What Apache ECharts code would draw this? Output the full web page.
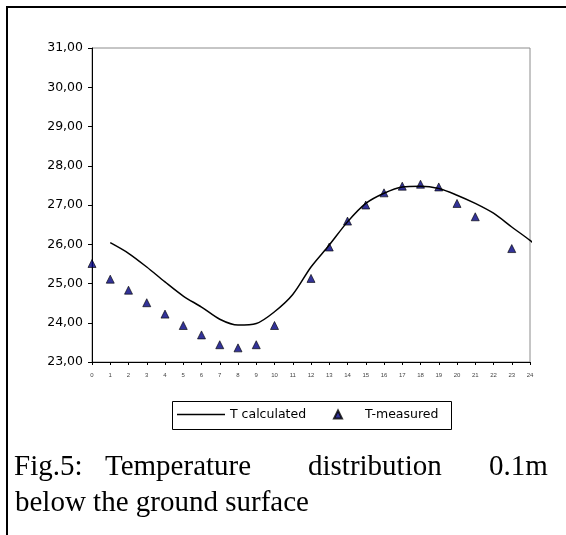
<!DOCTYPE html>
<html>
<head>
<meta charset="utf-8">
<script src="https://cdn.jsdelivr.net/npm/echarts@6/dist/echarts.min.js"></script>
<style>
  html, body { margin: 0; padding: 0; background: #fff; }
  #chart { width: 566px; height: 535px; }
</style>
</head>
<body>
<div id="chart"></div>
<script>
// ---- data ----
const calcHours = [1, 2, 3, 4, 5, 6, 7, 8, 9, 10, 11, 12, 13, 14, 15, 16, 17, 18, 19, 20, 21, 22, 23, 24, 24.3];
const calcTemps = [26.04, 25.77, 25.42, 25.04, 24.68, 24.40, 24.09, 23.94, 23.98, 24.28, 24.72, 25.42, 25.98, 26.57, 27.04, 27.30, 27.46, 27.48, 27.42, 27.25, 27.04, 26.79, 26.44, 26.10, 25.98];
const measHours = [0, 1, 2, 3, 4, 5, 6, 7, 8, 9, 10, 12, 13, 14, 15, 16, 17, 18, 19, 20, 21, 23];
const measTemps = [25.51, 25.11, 24.83, 24.51, 24.22, 23.93, 23.69, 23.44, 23.36, 23.44, 23.93, 25.13, 25.93, 26.59, 27.00, 27.31, 27.48, 27.53, 27.46, 27.04, 26.70, 25.89];
const seriesNames = ['T calculated', 'T-measured'];
const yTicks = [23, 24, 25, 26, 27, 28, 29, 30, 31];
const xTicks = [0, 1, 2, 3, 4, 5, 6, 7, 8, 9, 10, 11, 12, 13, 14, 15, 16, 17, 18, 19, 20, 21, 22, 23, 24];
const captionLine1 = ['Fig.5:', 'Temperature', 'distribution', '0.1m'];
const captionLine2 = 'below the ground surface';

const calcData = calcHours.map((h, i) => [h, calcTemps[i]]);
const measData = measHours.map((h, i) => [h, measTemps[i]]);

const chart = echarts.init(document.getElementById('chart'), null, { renderer: 'canvas' });
const cap1X = [14, 105, 308, 489];
const legendText = { fontFamily: 'DejaVu Sans', fontSize: 12.5, color: '#000' };

const option = {
  backgroundColor: '#ffffff',
  animation: false,
  grid: {
    left: 92, right: 36, top: 48, bottom: 173,
    show: true, borderColor: '#8c8c8c', borderWidth: 1, backgroundColor: 'transparent'
  },
  xAxis: {
    type: 'value',
    min: xTicks[0], max: xTicks[xTicks.length - 1], interval: 1,
    axisLine: { show: true, onZero: false, lineStyle: { color: '#000', width: 1 } },
    axisTick: { show: true, length: 3, lineStyle: { color: '#000' } },
    splitLine: { show: false },
    axisLabel: { fontFamily: 'Liberation Sans', fontSize: 6, color: '#444', margin: 10 }
  },
  yAxis: {
    type: 'value',
    min: yTicks[0], max: yTicks[yTicks.length - 1], interval: 1,
    axisLine: { show: true, lineStyle: { color: '#000', width: 1 } },
    axisTick: { show: true, length: 4, lineStyle: { color: '#000' } },
    splitLine: { show: false },
    axisLabel: {
      fontFamily: 'DejaVu Sans', fontSize: 12.5, color: '#000', margin: 9,
      formatter: v => v.toFixed(2).replace('.', ',')
    }
  },
  legend: [
    {
      left: 177, top: 408, padding: 0,
      itemWidth: 48, itemHeight: 1.5,
      textStyle: legendText,
      data: [{ name: seriesNames[0], icon: 'rect' }]
    },
    {
      left: 333, top: 408, padding: 0,
      itemWidth: 8, itemHeight: 8,
      textStyle: Object.assign({ padding: [0, 0, 0, 18] }, legendText),
      data: [{ name: seriesNames[1], icon: 'triangle' }]
    }
  ],
  series: [
    {
      name: seriesNames[0],
      type: 'line',
      data: calcData,
      showSymbol: false,
      symbol: 'none',
      smooth: 0.3,
      clip: false,
      lineStyle: { color: '#000', width: 1.5 },
      itemStyle: { color: '#000' }
    },
    {
      name: seriesNames[1],
      type: 'scatter',
      data: measData,
      symbol: 'triangle',
      symbolSize: 8,
      itemStyle: { color: '#000080', borderColor: '#000', borderWidth: 0.8 }
    }
  ],
  graphic: [
    { type: 'line', shape: { x1: 7, y1: 6, x2: 7, y2: 535 }, style: { stroke: '#000', lineWidth: 2 } },
    { type: 'line', shape: { x1: 6, y1: 7, x2: 566, y2: 7 }, style: { stroke: '#000', lineWidth: 2 } },
    { type: 'rect', shape: { x: 172.5, y: 401.5, width: 279, height: 28 }, style: { fill: 'none', stroke: '#000', lineWidth: 1 } },
    ...captionLine1.map((w, i) => ({
      type: 'text', x: cap1X[i], y: 467,
      style: { text: w, font: '29px "Liberation Serif"', fill: '#000', textVerticalAlign: 'middle' }
    })),
    {
      type: 'text', x: 15, y: 503,
      style: { text: captionLine2, font: '29px "Liberation Serif"', fill: '#000', textVerticalAlign: 'middle' }
    }
  ]
};
chart.setOption(option);
</script>
</body>
</html>
